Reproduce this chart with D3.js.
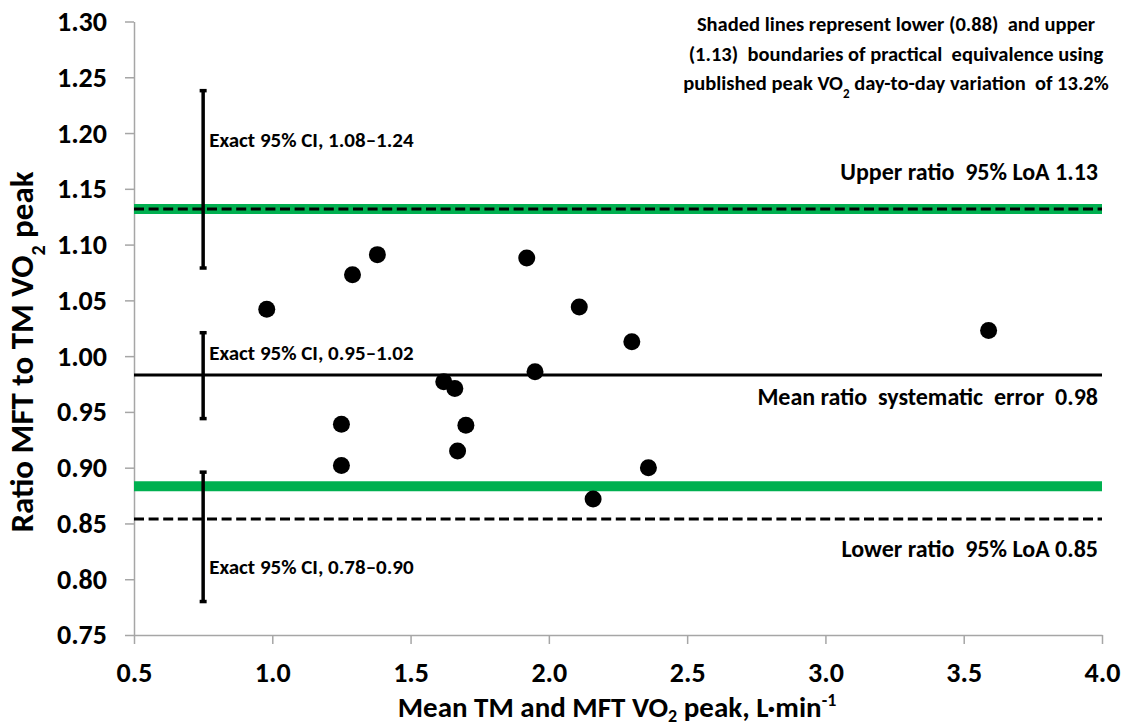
<!DOCTYPE html>
<html>
<head>
<meta charset="utf-8">
<script src="https://cdn.jsdelivr.net/npm/d3@7"></script>
<style>
  body { margin: 0; background: #fff; }
  svg { font-family: Carlito, Lato, sans-serif; font-weight: bold; }
</style>
</head>
<body>
<div id="viz"></div>
<script>
const width = 1123;
const height = 728;

// axis ticks
const xTicks = [0.5, 1.0, 1.5, 2.0, 2.5, 3.0, 3.5, 4.0];
const yTicks = [0.75, 0.80, 0.85, 0.90, 0.95, 1.00, 1.05, 1.10, 1.15, 1.20, 1.25, 1.30];

// participants: mean VO2 peak vs ratio
const meanVO2 = [0.98, 1.29, 1.38, 1.92, 2.11, 2.30, 3.59, 1.95, 1.62, 1.66, 1.70, 1.25, 1.67, 1.25, 2.36, 2.16];
const ratio   = [1.042, 1.073, 1.091, 1.088, 1.044, 1.013, 1.023, 0.986, 0.977, 0.971, 0.938, 0.939, 0.915, 0.902, 0.900, 0.872];

// reference lines
const meanRatio = 0.983;
const upperLoA = 1.132;
const lowerLoA = 0.854;
const equivBounds = [0.8834, 1.132];

// exact 95% CIs, drawn at x = 0.75
const ciX = 0.75;
const ciLow  = [1.079, 0.944, 0.780];
const ciHigh = [1.238, 1.021, 0.896];
const ciText = ['Exact 95% CI, 1.08\u20131.24', 'Exact 95% CI, 0.95\u20131.02', 'Exact 95% CI, 0.78\u20130.90'];
const ciLabelY = [1.1875, 0.9965, 0.8047];

const svg = d3.select('#viz')
  .append('svg')
    .attr('width', width)
    .attr('height', height);

const scaleX = d3.scaleLinear().domain([0.5, 4.0]).range([134, 1102]);
const scaleY = d3.scaleLinear().domain([0.75, 1.30]).range([635, 21.5]);

// Axes
const axisLeft = d3.axisLeft(scaleY)
  .tickValues(yTicks)
  .tickFormat(d3.format('.2f'))
  .tickSize(9)
  .tickSizeOuter(0)
  .tickPadding(18);
const yAxis = svg.append('g')
    .attr('transform', `translate(${scaleX(0.5)},0)`)
    .call(axisLeft);

const axisBottom = d3.axisBottom(scaleX)
  .tickValues(xTicks)
  .tickFormat(d3.format('.1f'))
  .tickSize(9)
  .tickSizeOuter(0)
  .tickPadding(18.5);
const xAxis = svg.append('g')
    .attr('transform', `translate(0,${scaleY(0.75)})`)
    .call(axisBottom);

[xAxis, yAxis].forEach(ax => {
  ax.selectAll('path, line').attr('stroke', '#a6a6a6').attr('stroke-width', 1.5);
  ax.selectAll('text')
    .attr('fill', '#000')
    .style('font-size', '28px')
    .style('font-family', 'Carlito, Lato, sans-serif')
    .style('font-weight', 'bold');
});

// Equivalence bounds (shaded green)
svg.append('g')
  .selectAll('line')
  .data(equivBounds)
  .join('line')
    .attr('x1', scaleX(0.5))
    .attr('x2', scaleX(4.0))
    .attr('y1', d => scaleY(d))
    .attr('y2', d => scaleY(d))
    .attr('stroke', '#00b050')
    .attr('stroke-width', 10);

// LoA dashed lines
svg.append('g')
  .selectAll('line')
  .data([upperLoA, lowerLoA])
  .join('line')
    .attr('x1', scaleX(0.5))
    .attr('x2', scaleX(4.0))
    .attr('y1', d => scaleY(d))
    .attr('y2', d => scaleY(d))
    .attr('stroke', '#000')
    .attr('stroke-width', 3)
    .attr('stroke-dasharray', '10,4.6');

// Mean ratio line
svg.append('line')
    .attr('x1', scaleX(0.5))
    .attr('x2', scaleX(4.0))
    .attr('y1', scaleY(meanRatio))
    .attr('y2', scaleY(meanRatio))
    .attr('stroke', '#000')
    .attr('stroke-width', 3);

// CI bars
const ci = svg.append('g')
  .selectAll('g')
  .data(ciLow.map((lo, i) => ({ lo, hi: ciHigh[i], text: ciText[i], ly: ciLabelY[i] })))
  .join('g');
ci.append('line')
    .attr('x1', scaleX(ciX))
    .attr('x2', scaleX(ciX))
    .attr('y1', d => scaleY(d.lo))
    .attr('y2', d => scaleY(d.hi))
    .attr('stroke', '#000')
    .attr('stroke-width', 3.5);
ci.selectAll('.cap')
  .data(d => [d.lo, d.hi])
  .join('line')
    .attr('class', 'cap')
    .attr('x1', scaleX(ciX) - 3.5)
    .attr('x2', scaleX(ciX) + 3.5)
    .attr('y1', d => scaleY(d))
    .attr('y2', d => scaleY(d))
    .attr('stroke', '#000')
    .attr('stroke-width', 3.5);
ci.append('text')
    .attr('x', scaleX(ciX) + 6)
    .attr('y', d => scaleY(d.ly))
    .style('font-size', '21px')
    .text(d => d.text);

// Points
svg.append('g')
  .selectAll('circle')
  .data(meanVO2.map((m, i) => ({ m, r: ratio[i] })))
  .join('circle')
    .attr('cx', d => scaleX(d.m))
    .attr('cy', d => scaleY(d.r))
    .attr('r', 8.5)
    .attr('fill', '#000');

// Right-hand labels
const rightLabels = [
  { text: 'Upper ratio  95% LoA 1.13', y: 180 },
  { text: 'Mean ratio  systematic  error  0.98', y: 405 },
  { text: 'Lower ratio  95% LoA 0.85', y: 557 }
];
svg.append('g')
  .selectAll('text')
  .data(rightLabels)
  .join('text')
    .attr('x', 1098)
    .attr('y', d => d.y)
    .attr('text-anchor', 'end')
    .style('font-size', '24px')
    .style('white-space', 'pre')
    .text(d => d.text);

// Note top right
const note = svg.append('text')
    .attr('text-anchor', 'middle')
    .style('font-size', '20.5px')
    .style('white-space', 'pre');
note.append('tspan').attr('x', 896).attr('y', 31).text('Shaded lines represent lower (0.88)  and upper');
note.append('tspan').attr('x', 896).attr('y', 61).text('(1.13)  boundaries of practical  equivalence using');
note.append('tspan').attr('x', 896).attr('y', 90).text('published peak VO');
note.append('tspan').attr('baseline-shift', 'sub').style('font-size', '13px').text('2');
note.append('tspan').text(' day-to-day variation  of 13.2%');

// Axis titles
const yTitle = svg.append('text')
    .attr('text-anchor', 'middle')
    .attr('transform', 'translate(33,352) rotate(-90)')
    .style('font-size', '33px');
yTitle.append('tspan').text('Ratio MFT to TM VO');
yTitle.append('tspan').attr('baseline-shift', 'sub').style('font-size', '20px').text('2');
yTitle.append('tspan').text(' peak');

const xTitle = svg.append('text')
    .attr('text-anchor', 'middle')
    .attr('x', 617)
    .attr('y', 717)
    .style('font-size', '29px');
xTitle.append('tspan').text('Mean TM and MFT VO');
xTitle.append('tspan').attr('dy', 5).style('font-size', '18px').text('2');
xTitle.append('tspan').attr('dy', -5).text(' peak, L\u00b7min');
xTitle.append('tspan').attr('dy', -11).style('font-size', '18px').text('-1');
</script>
</body>
</html>
